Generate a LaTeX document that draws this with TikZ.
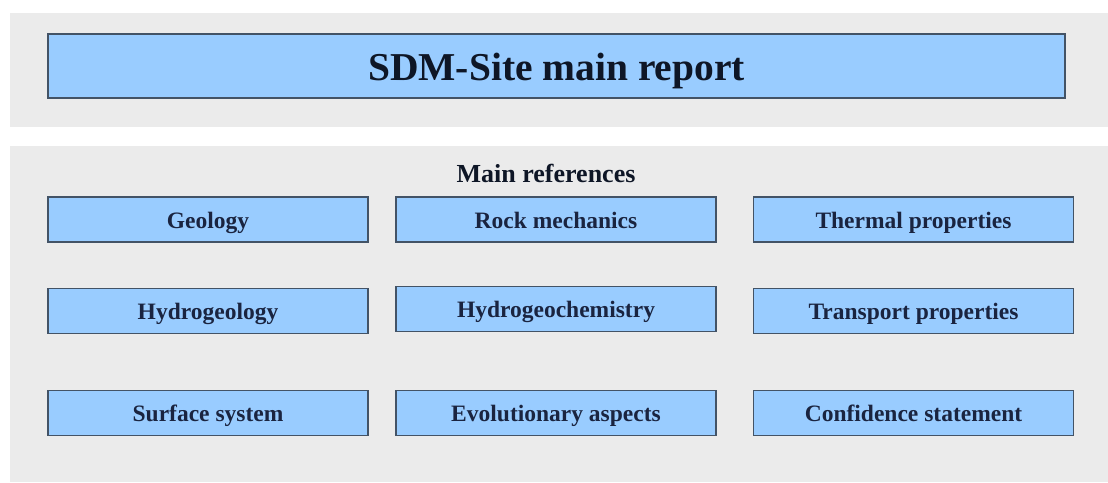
\documentclass[tikz,border=0pt]{standalone}
\usepackage{fontspec}
\setmainfont{Liberation Serif}
\definecolor{panel}{HTML}{EBEBEB}
\definecolor{boxfill}{HTML}{99CCFF}
\definecolor{boxline}{HTML}{435366}
\definecolor{labeltext}{HTML}{1A2440}
\definecolor{titletext}{HTML}{0E1626}
\begin{document}
\begin{tikzpicture}[x=1pt,y=-1pt,
  refbox/.style={draw=boxline, line width=1.6pt, fill=boxfill, inner sep=0pt,
    minimum width=320pt, minimum height=45pt, text=labeltext,
    text height=17pt, text depth=0pt,
    font=\fontsize{23.5}{26}\selectfont\bfseries},
  titlebox/.style={draw=boxline, line width=1.6pt, fill=boxfill, inner sep=0pt,
    minimum width=1017pt, minimum height=64pt, text=titletext,
    text height=28pt, text depth=0pt,
    font=\fontsize{39.5}{44}\selectfont\bfseries},
  heading/.style={inner sep=0pt, anchor=base, text=titletext, font=\fontsize{26}{30}\selectfont\bfseries}]
\useasboundingbox (0,0) rectangle (1108,482);
\fill[white] (0,0) rectangle (1108,482);
\fill[panel] (10,13) rectangle (1108,127);
\fill[panel] (10,146) rectangle (1108,482);
\node[titlebox] (main) at (556.5,66) {SDM-Site main report};
\node[heading] (refs) at (546,182) {Main references};
\node[refbox] (geo) at (208,219.5) {Geology};
\node[refbox] (rock) at (556,219.5) {Rock mechanics};
\node[refbox] (therm) at (913.5,219.5) {Thermal properties};
\node[refbox] (hydro) at (208,311) {Hydrogeology};
\node[refbox] (hchem) at (556,309) {Hydrogeochemistry};
\node[refbox] (trans) at (913.5,311) {Transport properties};
\node[refbox] (surf) at (208,413) {Surface system};
\node[refbox] (evol) at (556,413) {Evolutionary aspects};
\node[refbox] (conf) at (913.5,413) {Confidence statement};
\end{tikzpicture}
\end{document}
